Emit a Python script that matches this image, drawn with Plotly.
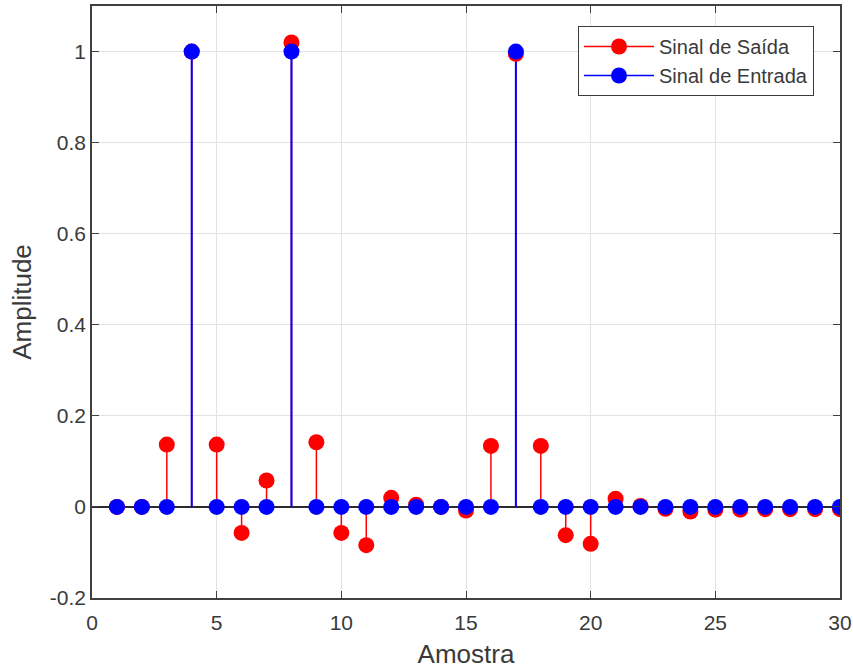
import plotly.graph_objects as go

# Sample index and the two sequences shown as stems
amostras = list(range(1, 31))
entrada = [0, 0, 0, 1, 0, 0, 0, 1, 0, 0,
           0, 0, 0, 0, 0, 0, 1, 0, 0, 0,
           0, 0, 0, 0, 0, 0, 0, 0, 0, 0]
saida = [0.0, 0.0, 0.137, 1.0, 0.137, -0.057, 0.058, 1.02, 0.142, -0.057,
         -0.084, 0.020, 0.005, 0.0, -0.008, 0.134, 0.995, 0.134, -0.062, -0.081,
         0.018, 0.002, -0.004, -0.010, -0.006, -0.006, -0.005, -0.005, -0.005, -0.005]

nome_saida = "Sinal de Saída"
nome_entrada = "Sinal de Entrada"

x_ticks = [0, 5, 10, 15, 20, 25, 30]
x_ticktext = ["0", "5", "10", "15", "20", "25", "30"]
y_ticks = [-0.2, 0, 0.2, 0.4, 0.6, 0.8, 1]
y_ticktext = ["-0.2", "0", "0.2", "0.4", "0.6", "0.8", "1"]

VERMELHO = "#ff0000"
AZUL = "#0000ff"
EIXO = "#404040"
TEXTO = "#3a3a3a"
GRADE = "#e2e2e2"
FONTE = "Liberation Sans, Arial, Helvetica, sans-serif"
MARCA = 16


def hastes(xs, ys):
    """Vertical segments from the zero baseline up to each sample."""
    hx, hy = [], []
    for xv, yv in zip(xs, ys):
        hx += [xv, xv, None]
        hy += [0, yv, None]
    return hx, hy


fig = go.Figure()

# output signal first, input drawn on top of it
for ys, cor, larg in ((saida, VERMELHO, 1.5), (entrada, AZUL, 2)):
    hx, hy = hastes(amostras, ys)
    fig.add_trace(go.Scatter(x=hx, y=hy, mode="lines",
                             line=dict(color=cor, width=larg),
                             showlegend=False, hoverinfo="skip"))

for ys, cor, nome in ((saida, VERMELHO, nome_saida), (entrada, AZUL, nome_entrada)):
    fig.add_trace(go.Scatter(x=amostras, y=ys, mode="markers", name=nome,
                             marker=dict(color=cor, size=MARCA, line=dict(width=0)),
                             showlegend=False))

# legend entries (line + marker)
for cor, nome in ((VERMELHO, nome_saida), (AZUL, nome_entrada)):
    fig.add_trace(go.Scatter(x=[None], y=[None], mode="lines+markers", name=nome,
                             line=dict(color=cor, width=1.5),
                             marker=dict(color=cor, size=MARCA)))

eixo_comum = dict(showline=True, linecolor=EIXO, linewidth=1.5, mirror="ticks",
                  ticks="inside", ticklen=7, tickwidth=1.2, tickcolor=EIXO,
                  showgrid=True, gridcolor=GRADE, gridwidth=1,
                  tickfont=dict(family=FONTE, size=21, color=TEXTO))

fig.update_xaxes(range=[0, 30], tickvals=x_ticks, ticktext=x_ticktext, zeroline=False,
                 ticklabelstandoff=5,
                 title=dict(text="Amostra", font=dict(family=FONTE, size=26, color=TEXTO),
                            standoff=12),
                 **eixo_comum)
# the y zero line doubles as the stem baseline
fig.update_yaxes(range=[-0.2, 1.1], tickvals=y_ticks, ticktext=y_ticktext,
                 zeroline=True, zerolinecolor="#2b2b2b", zerolinewidth=1.5,
                 title=dict(text="Amplitude", font=dict(family=FONTE, size=26, color=TEXTO),
                            standoff=11),
                 **eixo_comum)

fig.update_layout(
    width=853, height=671,
    margin=dict(l=92, r=13, t=6, b=73, autoexpand=False),
    plot_bgcolor="white", paper_bgcolor="white",
    font=dict(family=FONTE, color=TEXTO),
    legend=dict(x=(578 - 92) / 748, y=(598 - 26) / 592, xanchor="left", yanchor="top",
                bgcolor="white", bordercolor="#3c3c3c", borderwidth=1,
                font=dict(family=FONTE, size=20, color=TEXTO),
                itemwidth=70, tracegroupgap=0),
    showlegend=True,
)

fig.write_html("out.html")
